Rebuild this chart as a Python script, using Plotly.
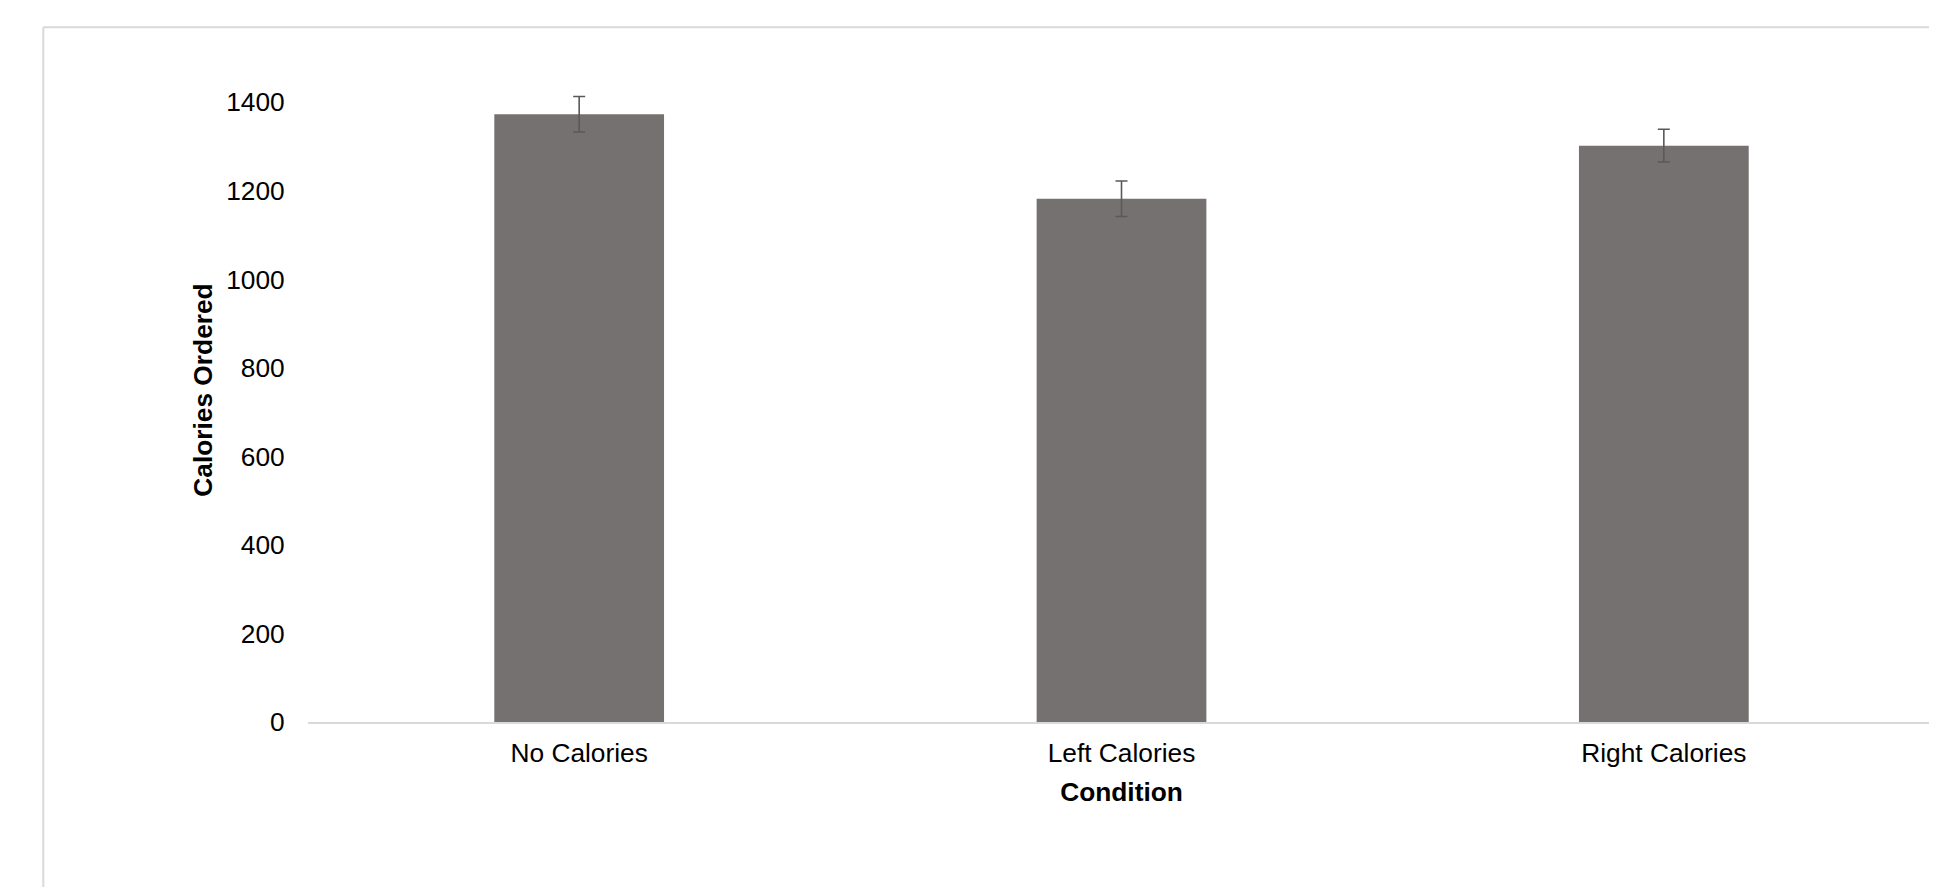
import plotly.graph_objects as go

categories = ["No Calories", "Left Calories", "Right Calories"]
calories = [1373, 1182, 1302]
errors = [40, 40, 37]
y_ticks = [0, 200, 400, 600, 800, 1000, 1200, 1400]

# page body has an 8px margin, so the figure is offset by 8px
W, H = 1929, 879
L, R, T, B = 300, 2, 50, 165
FS = 26.3

fig = go.Figure()
fig.add_trace(go.Bar(
    x=categories, y=calories,
    marker=dict(color="#767171", line=dict(width=0)),
    error_y=dict(type="data", array=errors, visible=True,
                 color="#595959", thickness=1.6, width=6),
    showlegend=False,
))

pw = W - L - R
ph = H - T - B
fx = lambda px: (px - L) / pw
fy = lambda py: (H - B - py) / ph

fig.update_layout(
    width=W, height=H,
    margin=dict(l=L, r=R, t=T, b=B, autoexpand=False),
    paper_bgcolor="white", plot_bgcolor="white",
    bargap=0.687,
    font=dict(family="Liberation Sans, Arial, sans-serif", size=FS, color="#000000"),
    xaxis=dict(
        showline=True, linecolor="#d9d9d9", linewidth=2,
        showgrid=False, ticks="outside", ticklen=6, tickcolor="rgba(0,0,0,0)",
        tickfont=dict(size=FS),
        title=dict(text="<b>Condition</b>", font=dict(size=FS), standoff=16),
    ),
    yaxis=dict(
        range=[0, 1500], tickvals=y_ticks, showgrid=False, zeroline=False,
        showline=False, ticks="outside", ticklen=17, tickcolor="rgba(0,0,0,0)",
        tickfont=dict(size=FS),
        title=dict(text="<b>Calories Ordered</b>", font=dict(size=FS), standoff=6),
    ),
    shapes=[
        dict(type="line", xref="paper", yref="paper",
             x0=fx(35.3), x1=fx(W + 5), y0=fy(19.3), y1=fy(19.3),
             line=dict(color="#d9d9d9", width=2)),
        dict(type="line", xref="paper", yref="paper",
             x0=fx(35.3), x1=fx(35.3), y0=fy(19.3), y1=fy(H + 5),
             line=dict(color="#d9d9d9", width=2)),
    ],
)

fig.write_html("out.html")
